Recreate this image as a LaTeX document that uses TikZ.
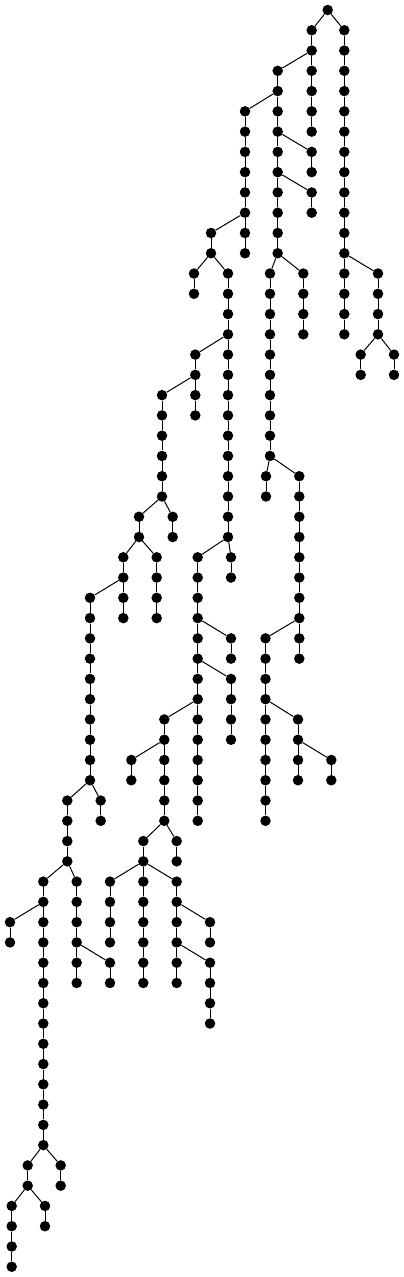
\documentclass[tikz,border=0pt]{standalone}
\usepackage{tikz}

\tikzset{
  dot/.style={circle, fill=black, inner sep=0pt, minimum size=10.5pt},
  link/.style={line width=1pt}
}

% vertical run of nodes: name, x, first level, last level
\newcommand{\nodechain}[4]{%
  \foreach \lv in {#3,...,#4}{
    \node[dot] (#1-\lv) at (#2,{10+20.27*\lv}) {};
    \ifnum\lv>#3
      \pgfmathtruncatemacro{\prv}{\lv-1}
      \draw[link] (#1-\prv) -- (#1-\lv);
    \fi
  }}

\begin{document}
\begin{tikzpicture}[x=1pt,y=-1pt]
  \useasboundingbox (0,0) rectangle (404,1277);
  % Runs of nodes
  \foreach \nm/\px/\lo/\hi in {
      r/327.7/0/0, A/311.7/1/6, B/344.3/1/16, C/277.7/3/12, D/245/5/12,
      E/311.7/7/8, Ea/311.7/9/10, F/211/11/12, G/194/13/14, H/228/13/26,
      I/195.3/17/20, J/162/19/24, K/270/13/22, M/303.3/13/16, N/378/13/16,
      Na/360.7/17/18, Nb/394/17/18, Ja/172.7/25/26, Jb/139/25/26,
      Jc/123.3/27/30, Jd/156.7/27/30, P/90/29/38, Ha/231/27/28,
      Q/197.7/27/40, Qa/231/31/32, Qb/231/33/36, R/164.3/35/40,
      Ra/131.3/37/38, Ka/266/23/24, Kb/299.3/23/32, S/265.5/31/40,
      T/298/35/38, Ta/331.3/37/38, Pa/100.7/39/40, U/67.3/39/42,
      V/43.3/43/56, Va/10/45/46, W/76.7/43/48, Wa/110/47/48,
      X/143.3/41/42, Xa/176.7/41/42, Xb/110/43/46, Xc/143.3/43/48,
      Y/176.7/43/48, Ya/210/45/46, Yb/210/47/50, Vb/60.7/57/58,
      Vc/27.7/57/58, Vd/11.7/59/62, Ve/45/59/60}
    \nodechain{\nm}{\px}{\lo}{\hi};
  % Branches
  \foreach \pa/\ch in {
      r-0/A-1, r-0/B-1, A-2/C-3, C-4/D-5, C-6/E-7, C-8/Ea-9, D-10/F-11,
      F-12/G-13, F-12/H-13, H-16/I-17, I-18/J-19, C-12/K-13, C-12/M-13,
      B-12/N-13, N-16/Na-17, N-16/Nb-17, J-24/Ja-25, J-24/Jb-25,
      Jb-26/Jc-27, Jb-26/Jd-27, Jc-28/P-29, H-26/Ha-27, H-26/Q-27,
      Q-30/Qa-31, Q-32/Qb-33, Q-34/R-35, R-36/Ra-37, K-22/Ka-23,
      K-22/Kb-23, Kb-30/S-31, S-34/T-35, T-36/Ta-37, P-38/Pa-39,
      P-38/U-39, U-42/V-43, V-44/Va-45, U-42/W-43, W-46/Wa-47,
      R-40/X-41, R-40/Xa-41, X-42/Xb-43, X-42/Xc-43, X-42/Y-43,
      Y-44/Ya-45, Y-46/Yb-47, V-56/Vb-57, V-56/Vc-57, Vc-58/Vd-59,
      Vc-58/Ve-59}
    \draw[link] (\pa) -- (\ch);
\end{tikzpicture}
\end{document}
